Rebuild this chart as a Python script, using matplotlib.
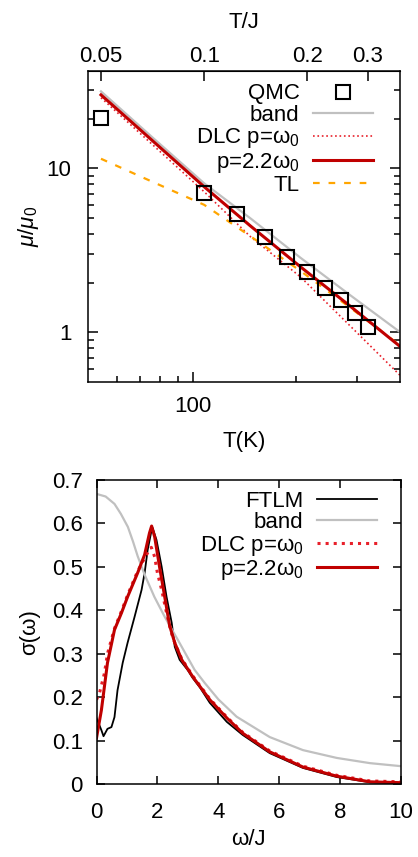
import numpy as np
import matplotlib
matplotlib.use('Agg')
import matplotlib.pyplot as plt
from matplotlib.ticker import FixedLocator, FixedFormatter, NullFormatter, NullLocator

plt.rcParams['font.family'] = ['Liberation Sans', 'DejaVu Sans']
plt.rcParams['font.size'] = 16
plt.rcParams['mathtext.fontset'] = 'custom'
plt.rcParams['mathtext.rm'] = 'Liberation Sans'
plt.rcParams['mathtext.it'] = 'Liberation Sans:italic'

# conversion T/J -> T(K)
JK = 1076.0

# ---- top panel data (mobility) ----
qmc_tj = [0.05, 0.1, 0.125, 0.15, 0.175, 0.2, 0.225, 0.25, 0.275, 0.3]
qmc_mu = [20.2, 7.08, 5.27, 3.82, 2.89, 2.34, 1.87, 1.58, 1.32, 1.08]

curve_tj = [0.05, 0.0696, 0.1, 0.1364, 0.1909, 0.2673, 0.374]
band_mu = [29.3, 15.8, 8.08, 4.95, 2.85, 1.68, 1.0]
dlc1_mu = [26.8, 14.3, 7.18, 3.83, 2.18, 1.09, 0.545]
dlc22_mu = [27.9, 15.1, 7.70, 4.45, 2.51, 1.44, 0.818]
tl_mu = [11.4, 8.37, 5.98, 3.85, 2.37, 1.41, 0.83]

# ---- bottom panel data (optical conductivity) ----
ftlm_w = [0, 0.16, 0.23, 0.36, 0.49, 0.59, 0.69, 0.86, 1.02, 1.25, 1.48, 1.58, 1.68,
          1.81, 1.84, 1.97, 2.14, 2.3, 2.47, 2.57, 2.73, 3.0, 3.16, 3.4, 3.72, 4.28,
          4.8, 5.69, 6.78, 7.89, 8.98, 10]
ftlm_s = [0.152, 0.124, 0.11, 0.127, 0.131, 0.154, 0.216, 0.279, 0.325, 0.385, 0.447,
          0.486, 0.539, 0.585, 0.59, 0.562, 0.50, 0.431, 0.371, 0.316, 0.286, 0.262,
          0.244, 0.222, 0.187, 0.143, 0.113, 0.071, 0.037, 0.016, 0.004, 0.002]

band_w = [0, 0.3, 0.59, 0.8, 1.03, 1.2, 1.35, 1.58, 1.9, 2.24, 2.67, 3.22, 3.55, 4.0,
          4.6, 5.69, 6.78, 7.89, 8.98, 10]
band_s = [0.668, 0.662, 0.645, 0.622, 0.592, 0.558, 0.525, 0.482, 0.431, 0.385, 0.332,
          0.263, 0.233, 0.195, 0.155, 0.108, 0.078, 0.06, 0.048, 0.041]

dlc1_w = [0, 0.1, 0.26, 0.36, 0.59, 0.82, 1.02, 1.35, 1.58, 1.7, 1.8, 1.91, 2.0,
          2.14, 2.3, 2.45, 2.57, 2.8, 3.16, 3.72, 4.28, 4.8, 5.69, 6.78, 7.89, 8.98, 10]
dlc1_s = [0.194, 0.21, 0.255, 0.30, 0.358, 0.398, 0.435, 0.49, 0.52, 0.535, 0.545,
          0.523, 0.486, 0.447, 0.394, 0.35, 0.325, 0.288, 0.249, 0.196, 0.154, 0.119,
          0.076, 0.041, 0.02, 0.007, 0.005]

dlc22_w = [0, 0.16, 0.36, 0.59, 0.82, 1.02, 1.35, 1.58, 1.74, 1.81, 1.91, 2.07, 2.24,
           2.4, 2.57, 2.8, 3.16, 3.72, 4.28, 4.8, 5.69, 6.78, 7.89, 8.98, 10]
dlc22_s = [0.106, 0.17, 0.279, 0.355, 0.394, 0.431, 0.486, 0.528, 0.578, 0.594, 0.569,
           0.50, 0.431, 0.365, 0.325, 0.286, 0.247, 0.194, 0.152, 0.117, 0.074, 0.039,
           0.018, 0.005, 0.003]

RED = '#c00000'
DOTRED = '#e8202a'
GREY = '#c0c0c0'
ORANGE = '#ffa500'

fig = plt.figure(figsize=(4.18, 8.57), dpi=100)

# ================= top panel =================
ax1 = fig.add_axes([0.2105, 0.5543, 0.7465, 0.3629])
ax1.set_xscale('log')
ax1.set_yscale('log')

T_curve = np.array(curve_tj) * JK
T_qmc = np.array(qmc_tj) * JK

ax1.plot(T_qmc, qmc_mu, 's', mfc='none', mec='black', ms=9.5, mew=1.5,
         label='QMC', zorder=5)
ax1.plot(T_curve, band_mu, '-', color=GREY, lw=1.6, label='band')
ax1.plot(T_curve, dlc1_mu, ':', color=DOTRED, lw=1.2, label='DLC p=ω$_0$')
ax1.plot(T_curve, tl_mu, '--', color=ORANGE, lw=1.6, dashes=(3, 4), label='TL')
ax1.plot(T_curve, dlc22_mu, '-', color=RED, lw=2.2, label='p=2.2ω$_0$')

ax1.set_xlim(49.3, 401)
ax1.set_ylim(0.5, 39)

ax1.xaxis.set_major_locator(FixedLocator([100]))
ax1.xaxis.set_major_formatter(FixedFormatter(['100']))
ax1.xaxis.set_minor_locator(FixedLocator([60, 70, 80, 90, 200, 300]))
ax1.xaxis.set_minor_formatter(NullFormatter())
ax1.yaxis.set_major_locator(FixedLocator([1, 10]))
ax1.yaxis.set_major_formatter(FixedFormatter(['1', '10']))
ax1.yaxis.set_minor_locator(FixedLocator([0.6, 0.7, 0.8, 0.9, 2, 3, 4, 5, 6, 7, 8, 9, 20, 30]))
ax1.yaxis.set_minor_formatter(NullFormatter())
ax1.tick_params(which='both', direction='in', right=True, top=False, width=1.1)
ax1.tick_params(which='major', length=7)
ax1.tick_params(which='minor', length=4)
ax1.tick_params(axis='x', which='major', pad=10)
ax1.tick_params(axis='y', which='major', pad=12)
ax1.set_xlabel('T(K)', labelpad=10)
ax1.set_ylabel('$\\mathit{μ/μ_0}$', labelpad=4)

sec = ax1.secondary_xaxis('top', functions=(lambda t: t / JK, lambda t: t * JK))
sec.set_xticks([0.05, 0.1, 0.2, 0.3])
sec.set_xticklabels(['0.05', '0.1', '0.2', '0.3'])
sec.xaxis.set_minor_locator(NullLocator())
sec.tick_params(direction='in', length=7, width=1.1, pad=3)
sec.set_xlabel('T/J', labelpad=13)

for s in ax1.spines.values():
    s.set_linewidth(1.1)

h, l = ax1.get_legend_handles_labels()
order = [0, 1, 2, 4, 3]
ax1.legend([h[i] for i in order], [l[i] for i in order], loc='upper right',
           bbox_to_anchor=(0.913, 0.96), frameon=False, markerfirst=False,
           handlelength=2.7, handletextpad=0.6, labelspacing=0.02,
           borderaxespad=0, borderpad=0)

# ================= bottom panel =================
ax2 = fig.add_axes([0.2309, 0.0852, 0.7284, 0.3547])
ax2.plot(ftlm_w, ftlm_s, '-', color='black', lw=1.3, label='FTLM')
ax2.plot(band_w, band_s, '-', color=GREY, lw=1.6, label='band')
ax2.plot(dlc1_w, dlc1_s, ':', color=DOTRED, lw=2.2, label='DLC p=ω$_0$')
ax2.plot(dlc22_w, dlc22_s, '-', color=RED, lw=2.2, label='p=2.2ω$_0$')

ax2.set_xlim(0, 10)
ax2.set_ylim(0, 0.7)
ax2.set_xticks([0, 2, 4, 6, 8, 10])
ax2.set_yticks([0, 0.1, 0.2, 0.3, 0.4, 0.5, 0.6, 0.7])
ax2.set_yticklabels(['0', '0.1', '0.2', '0.3', '0.4', '0.5', '0.6', '0.7'])
ax2.tick_params(direction='in', right=True, top=True, length=6, width=1.1)
ax2.tick_params(axis='x', pad=13)
ax2.tick_params(axis='y', pad=10)
ax2.set_xlabel('ω/J', labelpad=4)
ax2.set_ylabel('σ(ω)', labelpad=8)
for s in ax2.spines.values():
    s.set_linewidth(1.1)

ax2.legend(loc='upper right', bbox_to_anchor=(0.921, 0.965), frameon=False,
           markerfirst=False, handlelength=2.7, handletextpad=0.6,
           labelspacing=0.02, borderaxespad=0, borderpad=0)

fig.savefig('out.png', dpi=100)
